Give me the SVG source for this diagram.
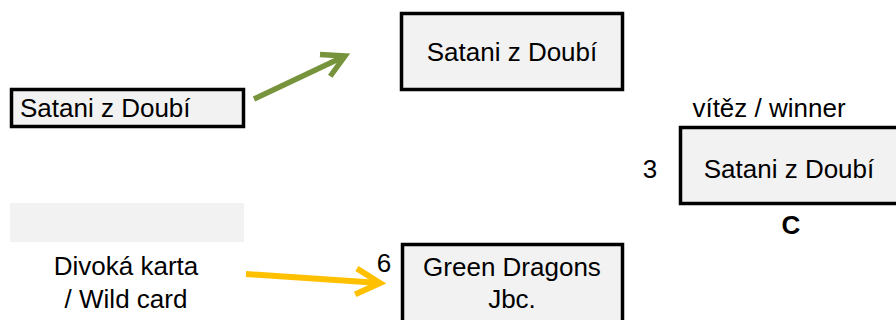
<svg xmlns="http://www.w3.org/2000/svg" width="896" height="320" viewBox="0 0 896 320">
<style>
.box{fill:#f2f2f2;stroke:#000;stroke-width:3.5}
.t{font-family:"Liberation Sans",Arial,sans-serif;font-size:26px;fill:#000}
.m{text-anchor:middle}
.b{font-weight:bold}
</style>
<defs>
<marker id="ag" markerUnits="userSpaceOnUse" viewBox="-30 -15 34 30" refX="0" refY="0" markerWidth="34" markerHeight="30" orient="auto" overflow="visible">
<path d="M-22,-12 L0,0 L-22,12" fill="none" stroke="#77933c" stroke-width="5.5" stroke-linejoin="miter"/>
</marker>
<marker id="ay" markerUnits="userSpaceOnUse" viewBox="-30 -15 34 30" refX="0" refY="0" markerWidth="34" markerHeight="30" orient="auto" overflow="visible">
<path d="M-24,-13 L0,0 L-24,13" fill="none" stroke="#ffc000" stroke-width="6" stroke-linejoin="miter"/>
</marker>
</defs>
<rect width="896" height="320" fill="#fff"/>
<g id="connectors">
<line x1="254" y1="99" x2="345" y2="56" stroke="#77933c" stroke-width="5.5" marker-end="url(#ag)"/>
<line x1="246" y1="274" x2="380" y2="283" stroke="#ffc000" stroke-width="6" marker-end="url(#ay)"/>
</g>
<g id="node-left">
<rect class="box" x="11.5" y="89.5" width="232" height="37"/>
<text class="t" x="20" y="117">Satani z Doubí</text>
</g>
<g id="node-blank">
<rect x="10" y="203" width="234" height="39" fill="#f2f2f2"/>
</g>
<g id="node-wildcard">
<text class="t m" x="126" y="275">Divoká karta</text>
<text class="t m" x="126" y="308">/ Wild card</text>
</g>
<g id="node-top">
<rect class="box" x="401.5" y="13.5" width="221" height="76"/>
<text class="t m" x="512" y="61">Satani z Doubí</text>
</g>
<g id="node-green">
<text class="t m" x="384" y="272">6</text>
<rect class="box" x="402.5" y="244.5" width="220" height="80"/>
<text class="t m" x="512" y="276">Green Dragons</text>
<text class="t m" x="512" y="308">Jbc.</text>
</g>
<g id="node-winner">
<text class="t m" x="769" y="117">vítěz / winner</text>
<text class="t m" x="650" y="178">3</text>
<rect class="box" x="680.5" y="127.5" width="230" height="76"/>
<text class="t m" x="789" y="178">Satani z Doubí</text>
<text class="t m b" x="791" y="234">C</text>
</g>
</svg>
